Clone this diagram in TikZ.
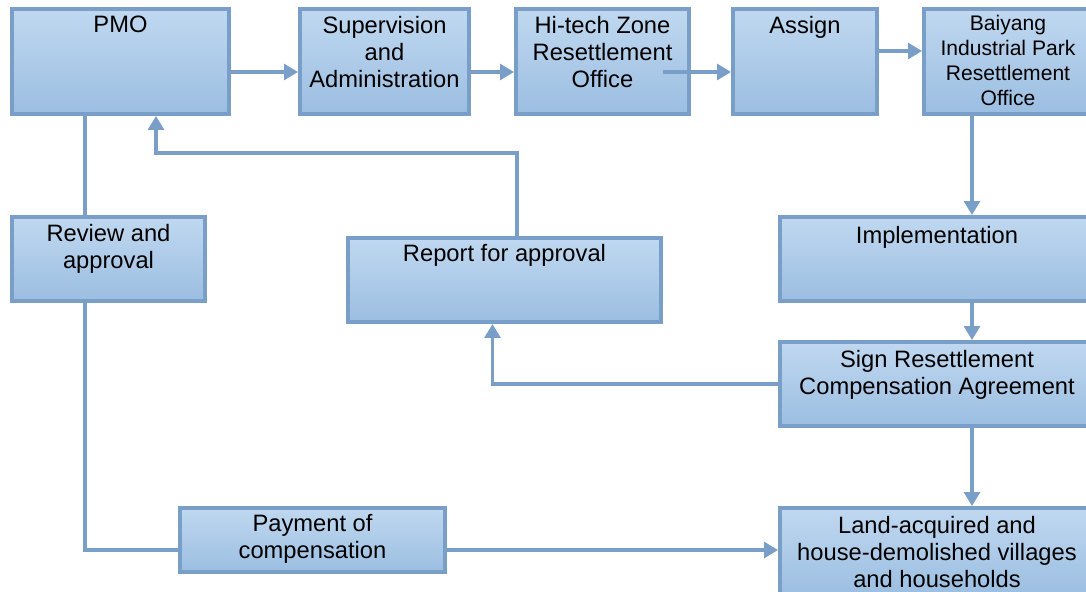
\documentclass[tikz,border=0pt]{standalone}
\usepackage{fontspec}
\setmainfont{Liberation Sans}
\usetikzlibrary{arrows.meta,fit,calc}
\definecolor{boxtop}{RGB}{192,216,240}
\definecolor{boxbot}{RGB}{155,190,225}
\definecolor{edge}{RGB}{121,158,199}
\tikzset{
  blk/.style={draw=edge, line width=2.2pt, top color=boxtop, bottom color=boxbot,
    inner sep=0pt, rectangle},
  txt/.style={anchor=north, align=center, inner sep=0pt, font=\fontsize{13.5}{15.3}\selectfont},
  arr/.style={draw=edge, line width=2pt, -{Triangle[width=9pt,length=8pt]}},
  ln/.style={draw=edge, line width=2pt}
}
\begin{document}
\begin{tikzpicture}[x=0.02cm,y=-0.02cm]
  \useasboundingbox (0,0) rectangle (1086,592);

  % top row
  \node[blk, fit={(12,9) (229,114)}] (pmo) {};
  \node[blk, fit={(300,9) (469,114)}] (sup) {};
  \node[blk, fit={(516,9) (689,114)}] (hitech) {};
  \node[blk, fit={(733,9) (877,114)}] (assign) {};
  \node[blk, fit={(924,9) (1090,114)}] (baiyang) {};

  % middle rows
  \node[blk, fit={(12,217) (205,301)}] (review) {};
  \node[blk, fit={(348,238) (661,322)}] (report) {};
  \node[blk, fit={(780,217) (1090,301)}] (impl) {};
  \node[blk, fit={(780,342) (1090,426)}] (sign) {};

  % bottom row
  \node[blk, fit={(180,508) (445,572)}] (pay) {};
  \node[blk, fit={(780,508) (1090,596)}] (land) {};

  % texts
  \node[txt] at ($(pmo.north)+(0,9)$) {PMO};
  \node[txt] at ($(sup.north)+(0,9)$) {Supervision\\and\\Administration};
  \node[txt] at ($(hitech.north)+(0,9)$) {Hi-tech Zone\\Resettlement\\Office};
  \node[txt] at ($(assign.north)+(0,9)$) {Assign};
  \node[txt, font=\fontsize{12}{14.2}\selectfont] at (1008,15) {Baiyang\\Industrial Park\\Resettlement\\Office};
  \node[txt] at ($(review.north)+(0,9)$) {Review and\\approval};
  \node[txt] at ($(report.north)+(0,8)$) {Report for approval};
  \node[txt] at (937,226) {Implementation};
  \node[txt] at (937,350) {Sign Resettlement\\Compensation Agreement};
  \node[txt] at ($(pay.north)+(0,8)$) {Payment of\\compensation};
  \node[txt] at (937,516) {Land-acquired and\\house-demolished villages\\and households};

  % connectors
  \coordinate (r1) at (0,72);
  \coordinate (r2) at (0,51);
  \coordinate (c1) at (972,0);
  \coordinate (c2) at (85,0);
  \coordinate (r3) at (0,550);
  \draw[arr] (pmo.east |- r1) -- (sup.west |- r1);
  \draw[arr] (sup.east |- r1) -- (hitech.west |- r1);
  \draw[arr] ($(hitech.east |- r1)+(-28,0)$) -- (assign.west |- r1);
  \draw[arr] (assign.east |- r2) -- (baiyang.west |- r2);
  \draw[arr] (baiyang.south -| c1) -- (impl.north -| c1);
  \draw[arr] (impl.south -| c1) -- (sign.north -| c1);
  \draw[arr] (sign.south -| c1) -- (land.north -| c1);
  \draw[arr] (sign.west) -| ($(report.south)+(-12,0)$);
  \draw[arr] ($(report.north)+(12.5,0)$) -- ++(0,-83) -| ($(pmo.south)+(35.5,0)$);
  \draw[ln] (pmo.south -| c2) -- (review.north -| c2);
  \draw[ln] (review.south -| c2) |- (pay.west |- r3);
  \draw[arr] (pay.east |- r3) -- (land.west |- r3);
\end{tikzpicture}
\end{document}
